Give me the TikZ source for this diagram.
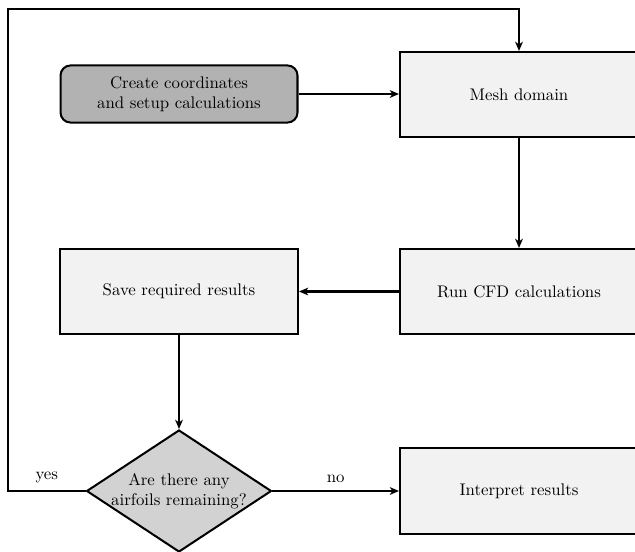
\documentclass[tikz,border=0pt]{standalone}
\usetikzlibrary{shapes.geometric,arrows.meta}
\tikzset{
    block/.style={draw,line width=1.2pt,fill=gray!10,minimum width=141.6pt,minimum height=50.6pt,align=center},
    startstop/.style={draw,line width=1.2pt,fill=gray!60,rounded corners=6pt,minimum width=141pt,minimum height=34pt,align=center},
    decision/.style={diamond,draw,line width=1.2pt,fill=gray!35,aspect=1.52,inner sep=-1pt,minimum width=110pt,minimum height=72.6pt,align=center},
    flow/.style={-{Stealth[length=5.5pt,width=4.6pt,inset=1.6pt]},line width=1.2pt},
    answer/.style={midway,above=1pt}
}
\def\lcol{179}
\def\rcol{519}

\begin{document}
\begin{tikzpicture}[x=0.595pt,y=-0.595pt]
  \useasboundingbox (0,0) rectangle (635,551);
  \clip (0,0) rectangle (635,551);

  % Blocks
  \node[startstop] (create) at (\lcol,94) {Create coordinates\\and setup calculations};
  \node[block] (mesh) at (\rcol,94.5) {Mesh domain};
  \node[block] (run) at (\rcol,291.5) {Run CFD calculations};
  \node[block] (save) at (\lcol,291.5) {Save required results};
  \node[decision] (remain) at (\lcol,491) {Are there any\\airfoils remaining?};
  \node[block] (interp) at (\rcol,491) {Interpret results};
  \coordinate (back) at (8,9);

  % Flow
  \draw[flow] (create.east) -- (create.east -| mesh.west);
  \draw[flow] (mesh) -- (run);
  \draw[flow] (run) -- (save);
  \draw[flow] (save) -- (remain);
  \draw[flow] (remain.east) -- node[answer] {no} (interp.west);
  \draw[flow] (remain.west) -- node[answer] {yes} (remain.west -| back) -- (back) -| (mesh.north);
\end{tikzpicture}
\end{document}
